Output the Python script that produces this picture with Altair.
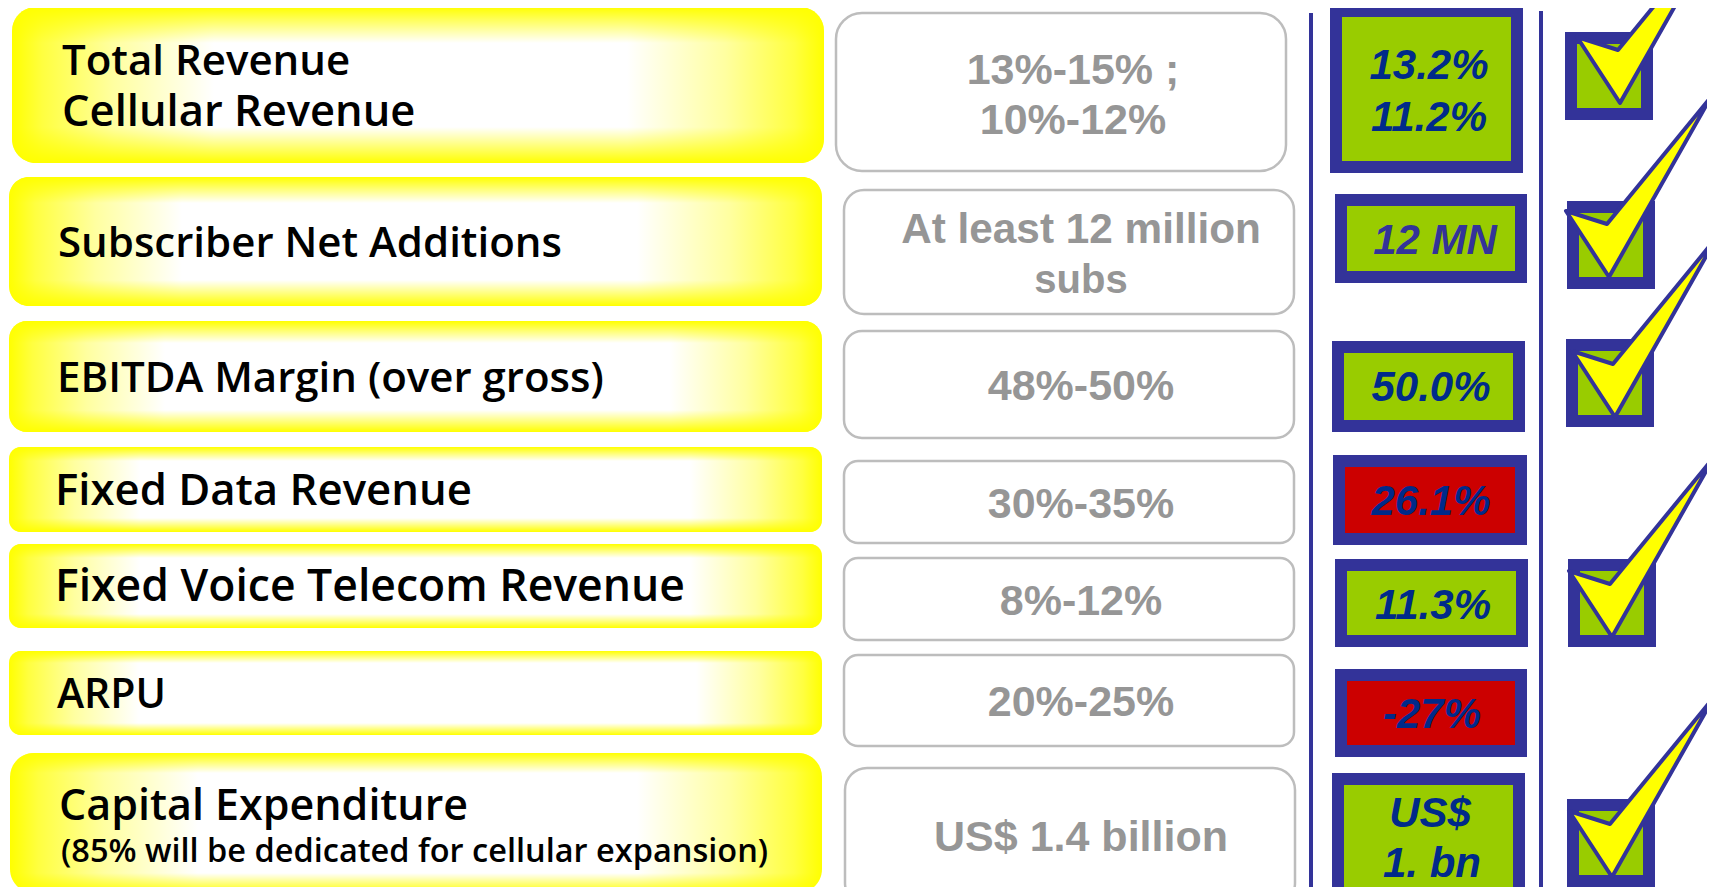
import altair as alt
import pandas as pd

# --- content ---
metric_lines = ["Total Revenue", "Cellular Revenue", "Subscriber Net Additions", "EBITDA Margin (over gross)",
                "Fixed Data Revenue", "Fixed Voice Telecom Revenue", "ARPU", "Capital Expenditure",
                "(85% will be dedicated for cellular expansion)"]
metric_x = [62, 62, 58, 57, 55, 55, 57, 59, 61]
metric_y = [75, 126, 257, 392, 505, 601, 708, 820, 862]
metric_size = [42, 43.5, 42, 42, 43.7, 44.5, 41, 43, 32.5]

guidance_lines = ["13%-15% ;", "10%-12%", "At least 12 million", "subs", "48%-50%", "30%-35%", "8%-12%", "20%-25%", "US$ 1.4 billion"]
guidance_x = [1073, 1073, 1081, 1081, 1081, 1081, 1081, 1081, 1081]
guidance_y = [84, 134, 243, 293, 400, 518, 615, 716, 851]
guidance_size = [43, 43, 42.3, 40, 43, 43, 43, 43, 43]

result_lines = ["13.2%", "11.2%", "12 MN", "50.0%", "26.1%", "11.3%", "-27%", "US$", "1. bn"]
result_x = [1429, 1429, 1435, 1431, 1431, 1433, 1432, 1430, 1432]
result_y = [79, 131, 254, 401, 515, 619, 728, 827, 877]
result_color = ["#002A8A", "#002A8A", "#333399", "#002A8A", "#002A8A", "#002A8A", "#002A8A", "#002A8A", "#002A8A"]

# --- layout of the panels ---
YELLOW = "#FFFF00"
yellow_x0 = [12, 9, 9, 9, 9, 9, 10]
yellow_x1 = [824, 822, 822, 822, 822, 822, 822]
yellow_y0 = [7, 177, 321, 447, 544, 651, 753]
yellow_y1 = [163, 306, 432, 532, 628, 735, 893]
yellow_rad = [24, 20, 18, 12, 12, 12, 24]
white_x0 = [214, 182, 165, 140, 140, 139, 198]
white_x1 = [627, 637, 670, 690, 690, 696, 637]
band_y = [36, 26, 22, 14, 14, 12, 20]

gray_x0 = [836, 844, 844, 844, 844, 844, 845]
gray_x1 = [1286, 1294, 1294, 1294, 1294, 1294, 1295]
gray_y0 = [13, 190, 331, 461, 558, 655, 768]
gray_y1 = [171, 314, 438, 543, 640, 746, 905]
gray_rad = [26, 20, 18, 14, 14, 14, 22]

res_x0 = [1336, 1341, 1338, 1339, 1341, 1341, 1338]
res_x1 = [1517, 1521, 1519, 1521, 1522, 1521, 1519]
res_y0 = [11, 200, 347, 461, 565, 675, 779]
res_y1 = [167, 277, 426, 539, 641, 751, 895]
res_fill = ["#99CC00", "#99CC00", "#99CC00", "#CC0000", "#99CC00", "#CC0000", "#99CC00"]

chk_x0 = [1571, 1573, 1572, 1574, 1573]
chk_x1 = [1647, 1649, 1648, 1650, 1649]
chk_y0 = [38, 207, 345, 565, 805]
chk_y1 = [114, 283, 421, 641, 881]
tick_x = [1620, 1609, 1615, 1612, 1612]
tick_y = [103, 277, 417, 637, 877]

rule_x = [1311, 1541]
rule_y0 = [13, 11]
rule_y1 = [891, 888]

NAVY = "#333399"
X = alt.Scale(domain=[8, 1707], nice=False, zero=False)
Y = alt.Scale(domain=[887, 8], nice=False, zero=False)


def px(f):
    return alt.X(f + ":Q", scale=X, axis=None)


def py(f):
    return alt.Y(f + ":Q", scale=Y, axis=None)


def boxes(x0, x1, y0, y1, **mark):
    d = pd.DataFrame({"x0": x0, "x1": x1, "y0": y0, "y1": y1})
    return alt.Chart(d).mark_rect(**mark).encode(x=px("x0"), x2="x1:Q", y=py("y0"), y2="y1:Q")


layers = []

# yellow panels: a horizontal and a vertical gradient on top of each other
for i in range(7):
    w = yellow_x1[i] - yellow_x0[i]
    h = yellow_y1[i] - yellow_y0[i]
    a = (white_x0[i] - yellow_x0[i]) / w
    b = (yellow_x1[i] - white_x1[i]) / w
    c = band_y[i] / h
    horiz = alt.LinearGradient(gradient="linear", x1=0, x2=1, y1=0, y2=0, stops=[
        alt.GradientStop(color=YELLOW, offset=0),
        alt.GradientStop(color="#FFFF40", offset=a * 0.15),
        alt.GradientStop(color="#FFFFA0", offset=a * 0.5),
        alt.GradientStop(color="#FFFFFF", offset=a),
        alt.GradientStop(color="#FFFFFF", offset=1 - b),
        alt.GradientStop(color="#FFFFA0", offset=1 - b * 0.5),
        alt.GradientStop(color="#FFFF40", offset=1 - b * 0.15),
        alt.GradientStop(color=YELLOW, offset=1)])
    vert = alt.LinearGradient(gradient="linear", x1=0, x2=0, y1=0, y2=1, stops=[
        alt.GradientStop(color="rgba(255,255,0,1)", offset=0),
        alt.GradientStop(color="rgba(255,255,0,0)", offset=c),
        alt.GradientStop(color="rgba(255,255,0,0)", offset=1 - c),
        alt.GradientStop(color="rgba(255,255,0,1)", offset=1)])
    for g in (horiz, vert):
        layers.append(boxes([yellow_x0[i]], [yellow_x1[i]], [yellow_y0[i]], [yellow_y1[i]],
                            fill=g, cornerRadius=yellow_rad[i]))

# guidance panels
for i in range(7):
    layers.append(boxes([gray_x0[i]], [gray_x1[i]], [gray_y0[i]], [gray_y1[i]],
                        fill="#FFFFFF", stroke="#BDBDBD", strokeWidth=2.5, cornerRadius=gray_rad[i]))

# rules
rules = pd.DataFrame({"x": rule_x, "y0": rule_y0, "y1": rule_y1})
layers.append(alt.Chart(rules).mark_rule(color=NAVY, strokeWidth=4).encode(x=px("x"), y=py("y0"), y2="y1:Q"))

# result panels
for i in range(7):
    layers.append(boxes([res_x0[i]], [res_x1[i]], [res_y0[i]], [res_y1[i]],
                        fill=res_fill[i], stroke=NAVY, strokeWidth=12))

# check boxes and ticks
layers.append(boxes(chk_x0, chk_x1, chk_y0, chk_y1, fill="#99CC00", stroke=NAVY, strokeWidth=12))
ticks = pd.DataFrame({"x": tick_x, "y": tick_y})
layers.append(alt.Chart(ticks).mark_point(
    shape="M-43,-66L-2,-53L102,-180L0,0Z", size=4, filled=True, fill=YELLOW, stroke=NAVY,
    strokeWidth=4, opacity=1, strokeJoin="round").encode(x=px("x"), y=py("y")))

# texts
metric = pd.DataFrame({"t": metric_lines, "x": metric_x, "y": metric_y, "s": metric_size})
layers.append(alt.Chart(metric).mark_text(align="left", baseline="alphabetic", font="Open Sans", fontWeight=600, color="#000000").encode(
    x=px("x"), y=py("y"), text="t:N", size=alt.Size("s:Q", scale=None, legend=None)))

guide = pd.DataFrame({"t": guidance_lines, "x": guidance_x, "y": guidance_y, "s": guidance_size})
layers.append(alt.Chart(guide).mark_text(align="center", baseline="alphabetic", font="Liberation Sans", fontWeight="bold",
                                         color="#969696").encode(
    x=px("x"), y=py("y"), text="t:N", size=alt.Size("s:Q", scale=None, legend=None)))

res = pd.DataFrame({"t": result_lines, "x": result_x, "y": result_y, "c": result_color})
layers.append(alt.Chart(res).mark_text(align="center", baseline="alphabetic", font="Liberation Sans", fontWeight="bold",
                                       fontStyle="italic", fontSize=42).encode(
    x=px("x"), y=py("y"), text="t:N", color=alt.Color("c:N", scale=None, legend=None)))

chart = alt.layer(*layers).properties(
    width=1699, height=879, padding=0, autosize=alt.AutoSizeParams(type="none"), background="#FFFFFF"
).configure_view(stroke=None)

chart.save("out.html", embed_options={"renderer": "svg", "actions": False})
